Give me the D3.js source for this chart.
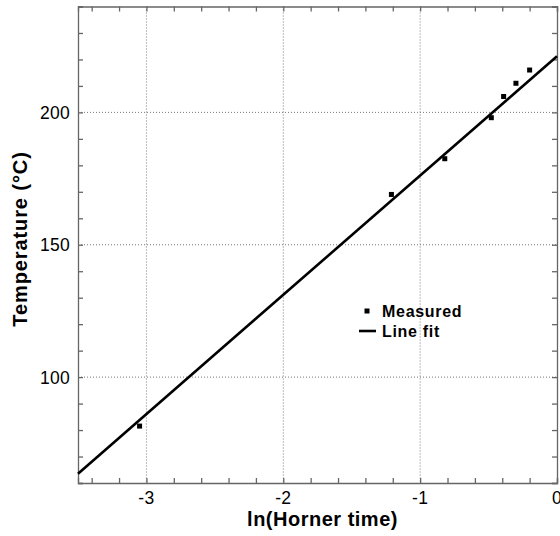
<!DOCTYPE html>
<html>
<head>
<meta charset="utf-8">
<script src="https://cdn.jsdelivr.net/npm/d3@7"></script>
<style>
  html, body { margin: 0; padding: 0; background: #fff; }
  svg text { font-family: "Liberation Sans", Arial, sans-serif; }
</style>
</head>
<body>
<svg id="chart" width="560" height="536"></svg>
<script>
// Measured temperatures against ln(Horner time)
const lnHorner = [-3.05, -1.21, -0.82, -0.48, -0.39, -0.30, -0.20];
const temperature = [81.5, 169, 182.5, 198, 206, 211, 216];

// Straight-line fit: T = intercept + slope * ln(t)
const fitIntercept = 221.2;
const fitSlope = 45.05;
const fitX = [-3.5, 0];

const xMajorTicks = [-3, -2, -1, 0];
const yMajorTicks = [100, 150, 200];

const svg = d3.select("#chart");
const plotLeft = 78, plotRight = 557, plotTop = 6.5, plotBottom = 483;

const x = d3.scaleLinear().domain([-3.5, 0]).range([plotLeft, plotRight]);
const y = d3.scaleLinear().domain([60, 240]).range([plotBottom, plotTop]);

const frameColor = "#666";
const xMinor = d3.range(-3.4, 0.001, 0.2).map(v => +v.toFixed(1));
const yMinor = d3.range(60, 241, 10);

// dotted grid at the major ticks
svg.append("g").selectAll("line").data(xMajorTicks.filter(v => v > -3.5 && v < 0)).join("line")
  .attr("x1", d => x(d)).attr("x2", d => x(d)).attr("y1", plotTop).attr("y2", plotBottom)
  .attr("stroke", "#777").attr("stroke-width", 1).attr("stroke-dasharray", "1,2");
svg.append("g").selectAll("line").data(yMajorTicks).join("line")
  .attr("y1", d => y(d)).attr("y2", d => y(d)).attr("x1", plotLeft).attr("x2", plotRight)
  .attr("stroke", "#777").attr("stroke-width", 1).attr("stroke-dasharray", "1,2");

// axes with inward ticks on all four sides
const tickLen = 5;
const bottomAxis = d3.axisBottom(x).tickValues(xMinor).tickSize(-tickLen).tickFormat("");
const topAxis = d3.axisTop(x).tickValues(xMinor).tickSize(-tickLen).tickFormat("");
const leftAxis = d3.axisLeft(y).tickValues(yMinor).tickSize(-tickLen).tickFormat("");
const rightAxis = d3.axisRight(y).tickValues(yMinor).tickSize(-tickLen).tickFormat("");

function styleAxis(g) {
  g.selectAll("path, line").attr("stroke", frameColor).attr("stroke-width", 1.3);
}
svg.append("g").attr("transform", `translate(0,${plotBottom})`).call(bottomAxis).call(styleAxis);
svg.append("g").attr("transform", `translate(0,${plotTop})`).call(topAxis).call(styleAxis);
svg.append("g").attr("transform", `translate(${plotLeft},0)`).call(leftAxis).call(styleAxis);
svg.append("g").attr("transform", `translate(${plotRight},0)`).call(rightAxis).call(styleAxis);

// major tick labels
svg.append("g").selectAll("text").data(xMajorTicks).join("text")
  .attr("x", d => x(d)).attr("y", plotBottom + 20.5)
  .attr("text-anchor", "middle").attr("font-size", 17.5).attr("letter-spacing", 0.3).attr("fill", "#000")
  .text(d => String(d));
svg.append("g").selectAll("text").data(yMajorTicks).join("text")
  .attr("x", plotLeft - 8).attr("y", d => y(d) + 6.5)
  .attr("text-anchor", "end").attr("font-size", 17.5).attr("letter-spacing", 0.3).attr("fill", "#000")
  .text(d => d);

// axis titles
svg.append("text").attr("x", 322.5).attr("y", 526)
  .attr("text-anchor", "middle").attr("font-size", 20).attr("font-weight", "bold")
  .attr("letter-spacing", 0.5)
  .text("ln(Horner time)");
svg.append("text").attr("transform", "translate(27,239) rotate(-90)")
  .attr("text-anchor", "middle").attr("font-size", 20).attr("font-weight", "bold")
  .attr("letter-spacing", 0.9)
  .text("Temperature (°C)");

// fitted line
const line = d3.line().x(d => x(d)).y(d => y(fitIntercept + fitSlope * d));
svg.append("path").datum(fitX).attr("d", line)
  .attr("fill", "none").attr("stroke", "#000").attr("stroke-width", 2.6);

// measured points
const m = 5;
svg.append("g").selectAll("rect").data(lnHorner.map((v, i) => [v, temperature[i]])).join("rect")
  .attr("x", d => x(d[0]) - m / 2).attr("y", d => y(d[1]) - m / 2)
  .attr("width", m).attr("height", m).attr("fill", "#000");

// legend
const lg = svg.append("g");
lg.append("rect").attr("x", 364.5).attr("y", 308.5).attr("width", m).attr("height", m).attr("fill", "#000");
lg.append("text").attr("x", 382).attr("y", 317).attr("font-size", 16).attr("font-weight", "bold")
  .attr("letter-spacing", 0.7).text("Measured");
lg.append("line").attr("x1", 359).attr("x2", 376).attr("y1", 331).attr("y2", 331)
  .attr("stroke", "#000").attr("stroke-width", 2.6);
lg.append("text").attr("x", 382).attr("y", 337).attr("font-size", 16).attr("font-weight", "bold")
  .attr("letter-spacing", 0.7).text("Line fit");
</script>
</body>
</html>
